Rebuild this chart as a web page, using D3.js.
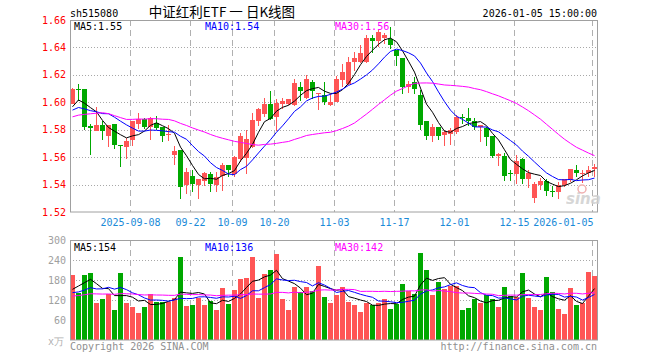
<!DOCTYPE html>
<html><head><meta charset="utf-8">
<script src="https://cdn.jsdelivr.net/npm/d3@7/dist/d3.min.js"></script>
<style>body{margin:0;background:#fff}svg{display:block}</style>
</head><body><div id="chart"></div>
<script>
// ---------------- data ----------------
const dates = [
"2025-08-25","2025-08-26","2025-08-27","2025-08-28","2025-08-29",
"2025-09-01","2025-09-02","2025-09-03","2025-09-04","2025-09-05",
"2025-09-08","2025-09-09","2025-09-10","2025-09-11","2025-09-12",
"2025-09-15","2025-09-16","2025-09-17","2025-09-18","2025-09-19",
"2025-09-22","2025-09-23","2025-09-24","2025-09-25","2025-09-26",
"2025-09-29","2025-09-30","2025-10-09","2025-10-10",
"2025-10-13","2025-10-14","2025-10-15","2025-10-16","2025-10-17",
"2025-10-20","2025-10-21","2025-10-22","2025-10-23","2025-10-24",
"2025-10-27","2025-10-28","2025-10-29","2025-10-30","2025-10-31",
"2025-11-03","2025-11-04","2025-11-05","2025-11-06","2025-11-07",
"2025-11-10","2025-11-11","2025-11-12","2025-11-13","2025-11-14",
"2025-11-17","2025-11-18","2025-11-19","2025-11-20","2025-11-21",
"2025-11-24","2025-11-25","2025-11-26","2025-11-27","2025-11-28",
"2025-12-01","2025-12-02","2025-12-03","2025-12-04","2025-12-05",
"2025-12-08","2025-12-09","2025-12-10","2025-12-11","2025-12-12",
"2025-12-15","2025-12-16","2025-12-17","2025-12-18","2025-12-19",
"2025-12-22","2025-12-23","2025-12-24","2025-12-25","2025-12-26",
"2025-12-29","2025-12-30","2025-12-31","2026-01-05"];

const open = [1.599,1.6095,1.610,1.583,1.5794,1.5838,1.5752,1.5845,1.5686,1.5671,
1.5728,1.5845,1.5875,1.5818,1.585,1.5818,1.5765,1.5617,1.5654,1.5396,
1.5465,1.5396,1.5428,1.5477,1.5396,1.5462,1.5544,1.5477,1.5588,1.5593,
1.5674,1.5863,1.5912,1.5985,1.5894,1.5985,1.5985,1.5978,1.6115,1.6034,
1.615,1.6059,1.6052,1.5978,1.6003,1.6164,1.6133,1.6297,1.6292,1.6292,
1.6471,1.6444,1.6469,1.6464,1.6378,1.6322,1.6115,1.615,1.6052,1.5863,
1.5757,1.5818,1.5764,1.5772,1.5782,1.5894,1.5887,1.5863,1.5821,1.5814,
1.5752,1.5605,1.5605,1.5482,1.5477,1.559,1.544,1.5303,1.5396,1.5428,
1.5352,1.5347,1.5396,1.5433,1.5507,1.5475,1.5482,1.5512];
const high = [1.6105,1.613,1.610,1.5845,1.5968,1.5863,1.5838,1.5845,1.5690,1.574,
1.5866,1.5919,1.5887,1.5894,1.5899,1.5818,1.5838,1.5679,1.5654,1.5519,
1.5507,1.5443,1.5490,1.5494,1.5494,1.5556,1.5544,1.561,1.5777,1.5801,
1.5919,1.5956,1.6034,1.6083,1.6022,1.6034,1.6027,1.617,1.6145,1.6199,
1.6164,1.6071,1.6145,1.6059,1.6189,1.628,1.6329,1.6366,1.6415,1.6493,
1.6488,1.6527,1.6505,1.6549,1.6381,1.6325,1.6157,1.6182,1.6091,1.5866,
1.5843,1.5821,1.5801,1.5814,1.5904,1.5912,1.5956,1.5887,1.5838,1.5821,
1.5755,1.5629,1.5629,1.5507,1.5617,1.5593,1.5507,1.5421,1.545,1.5438,
1.5389,1.5421,1.5443,1.5515,1.5544,1.5507,1.5536,1.5551];
const low = [1.5985,1.601,1.580,1.5617,1.5789,1.5723,1.5671,1.5661,1.5531,1.5588,
1.5679,1.5806,1.5806,1.5728,1.5799,1.5708,1.5715,1.5544,1.5293,1.533,
1.5347,1.5298,1.5389,1.5347,1.5347,1.5355,1.5458,1.5458,1.5568,1.5477,
1.5666,1.5826,1.5894,1.587,1.5789,1.5948,1.5978,1.5973,1.601,1.6027,
1.6022,1.5944,1.5978,1.5973,1.6000,1.6115,1.6125,1.6231,1.6289,1.6289,
1.6361,1.6402,1.6427,1.639,1.6263,1.6059,1.6066,1.6059,1.5801,1.5723,
1.5708,1.5728,1.5679,1.5691,1.5772,1.5845,1.5826,1.5801,1.5708,1.5679,
1.5593,1.5536,1.5428,1.5428,1.5404,1.5404,1.5372,1.5266,1.5364,1.5315,
1.531,1.5298,1.5384,1.5421,1.5453,1.5409,1.5458,1.5458];
const close = [1.610,1.609,1.582,1.581,1.5831,1.5789,1.5831,1.5686,1.5681,1.5715,
1.5863,1.5875,1.5818,1.5887,1.5809,1.5757,1.5768,1.5647,1.5384,1.5494,
1.5404,1.544,1.5487,1.5404,1.5458,1.5544,1.5507,1.5598,1.5757,1.5733,
1.587,1.5948,1.5985,1.5875,1.5998,1.601,1.6022,1.614,1.6083,1.6169,
1.6083,1.6066,1.6003,1.6003,1.6169,1.6218,1.6297,1.6324,1.6361,1.6471,
1.6444,1.6512,1.6493,1.642,1.6336,1.6115,1.6133,1.6096,1.5838,1.5752,
1.5818,1.5757,1.5782,1.5796,1.5894,1.5887,1.5863,1.5821,1.5831,1.5747,
1.5605,1.5622,1.5463,1.5475,1.5573,1.544,1.5487,1.5404,1.5426,1.5355,
1.5345,1.5396,1.544,1.5512,1.5482,1.5487,1.5507,1.5526];
// volume, in units of 10k (万)
const volume = [195,142,195,201,112,124,139,90,201,112,
100,82,100,138,114,114,114,127,250,102,
106,127,105,117,90,157,109,151,184,187,
250,127,199,211,259,124,91,160,144,160,
147,223,129,112,135,160,115,105,85,112,
105,112,124,94,109,169,147,139,262,211,
135,175,152,162,162,90,97,124,112,135,
124,100,159,132,129,202,127,100,90,190,
144,94,79,157,105,112,205,192];
// closes / volumes of the 29 sessions before the window (estimated so the MAs start where the picture shows)
const priorClose = [1.572,1.565,1.568,1.570,1.569,1.604,1.612,1.611,1.611,
1.585,1.580,1.584,1.578,1.583,1.586,1.5816,1.596,1.594,1.595,1.5941,
1.590,1.592,1.594,1.591,1.5925,1.584,1.594,1.597,1.5985];
const priorVolume = [105,118,112,126,140,131,122,135,128,117,133,139,124,130,121,136,129,134,126,134,
120,140,128,150,122,92,145,151,177];

const priceTicks = [1.52,1.54,1.56,1.58,1.60,1.62,1.64,1.66];
const volumeTicks = [60,120,180,240,300];
const tickDates = ["2025-09-08","2025-09-22","2025-10-09","2025-10-20","2025-11-03","2025-11-17","2025-12-01","2025-12-15","2026-01-05"];
const tickLabels = ["2025-09-08","09-22","10-09","10-20","11-03","11-17","12-01","12-15","2026-01-05"];
const maPeriods = [5,10,30];
const priceMaLabels = ["MA5:1.55","MA10:1.54","MA30:1.56"];
const volumeMaLabels = ["MA5:154","MA10:136","MA30:142"];
const symbol = "sh515080";
const title = "中证红利ETF 一 日K线图";
const stamp = "2026-01-05 15:00:00";

// ---------------- drawing ----------------
const W = 660, H = 360;
const L = 70, R = 597.5;
const pTop = 20, pBot = 212, vTop = 240, vBot = 340;
const UP = "#ff5555", DOWN = "#00a800";
const maColors = ["#000000", "#0000ff", "#ff00ff"];
const mono = "'DejaVu Sans Mono', monospace";

const svg = d3.select("#chart").append("svg").attr("width", W).attr("height", H)
  .style("font-family", mono).style("font-size", "10px");

const x = d3.scaleBand().domain(dates).range([69.5, 597.5]).paddingInner(1/6).paddingOuter(1/12);
const xc = d => x(d) + x.bandwidth() / 2;
const yP = d3.scaleLinear().domain([1.52, 1.66]).range([pBot, pTop]);
const yV = d3.scaleLinear().domain([0, 300]).range([vBot, vTop]);

function movingAvg(prior, vals, n) {
  const full = prior.concat(vals), P = prior.length;
  return vals.map((_, i) => d3.mean(full.slice(P + i - n + 1, P + i + 1)));
}

// header
svg.append("text").attr("x", 70).attr("y", 16.5).text(symbol);
svg.append("text").attr("x", 222).attr("y", 17).attr("text-anchor", "middle")
  .style("font-family", "'Noto Sans CJK SC', sans-serif").style("font-size", "13.5px").text(title);
svg.append("text").attr("x", 597).attr("y", 16.5).attr("text-anchor", "end").text(stamp);

function panel(top, bot, yScale, gridVals, labelFmt, labelColor) {
  const g = svg.append("g");
  // horizontal dotted grid
  g.selectAll("line.h").data(gridVals.filter(v => yScale(v) > top + 1 && yScale(v) < bot - 1)).join("line")
    .attr("x1", L).attr("x2", R).attr("y1", v => Math.round(yScale(v)) + 0.5).attr("y2", v => Math.round(yScale(v)) + 0.5)
    .attr("stroke", "#a8a8a8").attr("stroke-dasharray", "1,2");
  // vertical dashed grid
  g.selectAll("line.v").data(tickDates).join("line")
    .attr("x1", d => x(d) + 0.5).attr("x2", d => x(d) + 0.5).attr("y1", top).attr("y2", bot)
    .attr("stroke", "#b0b0b0").attr("stroke-dasharray", "6,4");
  // axis labels
  g.selectAll("text").data(gridVals).join("text")
    .attr("x", 66).attr("y", v => yScale(v) + 3.5).attr("text-anchor", "end")
    .attr("fill", labelColor).text(labelFmt);
  return g;
}

panel(pTop, pBot, yP, priceTicks, d3.format(".2f"), "#ff0000");
panel(vTop, vBot, yV, volumeTicks, d => d, "#a0a0a0");

// date labels
svg.selectAll("text.date").data(tickDates).join("text").attr("class", "date")
  .attr("x", (d, i) => { const xx = x(d) + 0.5; return i === tickDates.length - 1 ? xx + 1 : xx; })
  .attr("y", 226)
  .attr("text-anchor", (d, i) => i === tickDates.length - 1 ? "end" : "middle")
  .attr("fill", "#1a8ad8").text((d, i) => tickLabels[i]);

// candles
const idx = d3.range(dates.length);
const isUp = i => close[i] >= open[i];
const cg = svg.append("g").attr("shape-rendering", "crispEdges");
cg.selectAll("line").data(idx).join("line")
  .attr("x1", i => xc(dates[i])).attr("x2", i => xc(dates[i]))
  .attr("y1", i => yP(high[i])).attr("y2", i => yP(low[i]))
  .attr("stroke", i => isUp(i) ? UP : DOWN);
cg.selectAll("rect").data(idx).join("rect")
  .attr("x", i => x(dates[i])).attr("width", x.bandwidth())
  .attr("y", i => yP(Math.max(open[i], close[i])))
  .attr("height", i => Math.max(1, Math.abs(yP(open[i]) - yP(close[i]))))
  .attr("fill", i => isUp(i) ? UP : DOWN);

// volume bars
svg.append("g").attr("shape-rendering", "crispEdges").selectAll("rect").data(idx).join("rect")
  .attr("x", i => x(dates[i])).attr("width", x.bandwidth())
  .attr("y", i => yV(volume[i])).attr("height", i => vBot - yV(volume[i]))
  .attr("fill", i => isUp(i) ? UP : DOWN);

// moving averages
maPeriods.forEach((n, k) => {
  const pm = movingAvg(priorClose, close, n);
  svg.append("path").datum(pm).attr("fill", "none").attr("stroke", maColors[k]).attr("stroke-width", 1)
    .attr("d", d3.line().x((d, i) => xc(dates[i])).y(d => yP(d)));
  const vm = movingAvg(priorVolume, volume, n);
  svg.append("path").datum(vm).attr("fill", "none").attr("stroke", maColors[k]).attr("stroke-width", 1)
    .attr("d", d3.line().x((d, i) => xc(dates[i])).y(d => yV(d)));
});

// frames
[[pTop, pBot], [vTop, vBot]].forEach(([t, b]) => {
  svg.append("rect").attr("x", L + 0.5).attr("y", t + 0.5).attr("width", R - L - 0.5).attr("height", b - t - 0.5)
    .attr("fill", "none").attr("stroke", "#a0a0a0");
});

// MA labels
const labX = [74, 205, 335];
priceMaLabels.forEach((t, k) => svg.append("text").attr("x", labX[k]).attr("y", 29.5).attr("fill", maColors[k]).text(t));
volumeMaLabels.forEach((t, k) => svg.append("text").attr("x", labX[k]).attr("y", 251).attr("fill", maColors[k]).text(t));

// watermark
svg.append("text").attr("x", 566).attr("y", 204).attr("fill", "#d0d0d0").attr("opacity", 0.85)
  .style("font-family", "'DejaVu Sans', sans-serif").style("font-size", "15px").style("font-style", "italic").style("font-weight", "bold")
  .text("sina");
svg.append("circle").attr("cx", 582).attr("cy", 189).attr("r", 4).attr("fill", "none").attr("stroke", "#f0b0b0").attr("stroke-width", 1.5);

// footer
svg.append("text").attr("x", 64).attr("y", 345).attr("text-anchor", "end").attr("fill", "#b0b0b0").text("x万");
svg.append("text").attr("x", 70).attr("y", 349.5).attr("fill", "#909090").text("Copyright 2026 SINA.COM");
svg.append("text").attr("x", 597).attr("y", 349.5).attr("text-anchor", "end").attr("fill", "#909090").text("http://finance.sina.com.cn");
</script></body></html>
